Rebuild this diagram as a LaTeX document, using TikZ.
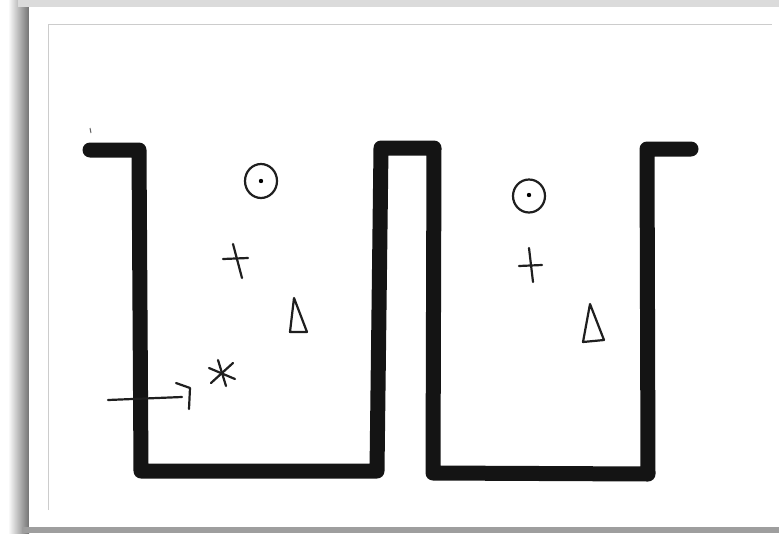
\documentclass[tikz,border=0pt]{standalone}
\begin{document}
\begin{tikzpicture}[x=1pt,y=-1pt,
  marker/.style={line width=15pt, line join=round, line cap=round, black!92},
  pen/.style={line width=2.2pt, line cap=round, line join=round, black!88}]
\useasboundingbox (0,0) rectangle (779,533);
\fill[white] (0,0) rectangle (779,533);
% paper shadow
\shade[left color=white, right color=black!55] (8,0) rectangle (29,533);
\fill[black!14] (18,0) rectangle (779,7);
\fill[black!38] (22,527) rectangle (779,533);
\fill[white] (29,7) rectangle (779,527);
\draw[black!20, line width=0.8pt] (48,510) -- (48,24) -- (772,24);
% channel outline
\draw[marker] (90,150) -- (139,150) -- (141,471) -- (377,471) -- (381,148)
  -- (434,148) -- (433,473) -- (648,474) -- (647,149) -- (691,149);
% stray mark
\draw[black!60, line width=1pt] (90,128) -- (91,133);
% left well symbols
\draw[pen] (261,181) ellipse (16 and 17);
\fill[black] (261,181) circle (2.2);
\draw[pen] (223,259) -- (248,258);
\draw[pen] (233,244) -- (242,278);
\draw[pen] (294,298) -- (290,332) -- (307,332) -- cycle;
\draw[pen] (218,360) -- (226,386);
\draw[pen] (209,368) -- (235,379);
\draw[pen] (211,383) -- (233,363);
\draw[pen] (108,400) -- (182,397);
\draw[pen] (176,383) -- (190,388) -- (189,409);
% right well symbols
\draw[pen] (529,196) ellipse (16 and 16.5);
\fill[black] (529,195) circle (2.2);
\draw[pen] (519,266) -- (542,265);
\draw[pen] (529,248) -- (533,282);
\draw[pen] (590,304) -- (583,342) -- (604,340) -- cycle;
\end{tikzpicture}
\end{document}
